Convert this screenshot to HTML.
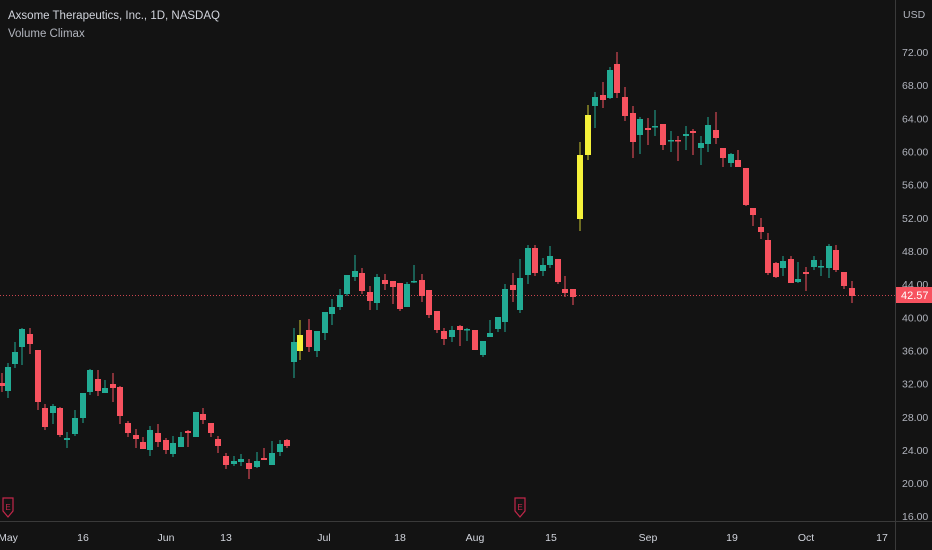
<!DOCTYPE html>
<html><head><meta charset="utf-8"><style>
html,body{margin:0;padding:0;background:#131313;}
svg{display:block}
text{font-family:"Liberation Sans",sans-serif;}
</style></head><body>
<svg id="s" width="932" height="550" viewBox="0 0 932 550" xmlns="http://www.w3.org/2000/svg">
<rect width="932" height="550" fill="#131313"/>
<line x1="895.5" y1="0" x2="895.5" y2="550" stroke="#3a3a3a"/>
<line x1="0" y1="521.5" x2="932" y2="521.5" stroke="#3a3a3a"/>
<line x1="0" y1="295.5" x2="895" y2="295.5" stroke="#f7525f" stroke-width="1" stroke-dasharray="1,2" opacity="0.8"/>
<text x="8" y="19" fill="#d1d4dc" font-size="11.5">Axsome Therapeutics, Inc., 1D, NASDAQ</text>
<text x="8" y="37" fill="#b2b5be" font-size="11.5">Volume Climax</text>
<text x="903" y="18" fill="#b2b5be" font-size="10.5">USD</text>
<g id="c"></g>
<g fill="#b2b5be" font-size="10.5" id="py"></g>
<rect x="896" y="287" width="36" height="16" fill="#f7525f"/>
<text x="901" y="299" fill="#fff" font-size="11">42.57</text>
<g fill="#d1d4dc" font-size="10.5" text-anchor="middle">
<text x="8" y="541">May</text><text x="83" y="541">16</text><text x="166" y="541">Jun</text><text x="226" y="541">13</text>
<text x="324" y="541">Jul</text><text x="400" y="541">18</text><text x="475" y="541">Aug</text><text x="551" y="541">15</text>
<text x="648" y="541">Sep</text><text x="732" y="541">19</text><text x="806" y="541">Oct</text><text x="882" y="541">17</text>
</g>
<g fill="none" stroke="#c2274a" stroke-width="1.2">
<path d="M3 498 h10 v13 l-5 6 l-5 -6 z"/><path d="M515 498 h10 v13 l-5 6 l-5 -6 z"/>
</g>
<g fill="#c2274a" font-size="8" text-anchor="middle"><text x="8" y="510">E</text><text x="520" y="510">E</text></g>
</svg>
<script>
var T="#22ab94",R="#f7525f",Y="#f5f23a";
var d=[[2,383,386,373,392,R],[8,367,391,363,398,T],[15,352,364,342,368,T],[22,329,347,328,365,T],[30,334,344,328,354,R],[38,350,402,350,410,R],[45,408,427,404,430,R],[53,406,413,404,424,T],[60,408,435,407,437,R],[67,438,440,432,448,T],[75,418,434,410,436,T],[83,393,418,393,423,T],[90,370,392,369,395,T],[98,379,391,370,396,R],[105,388,393,380,393,T],[113,384,388,373,402,R],[120,387,416,386,424,R],[128,423,433,421,437,R],[136,435,439,429,448,R],[143,442,449,437,449,R],[150,430,450,426,456,T],[158,433,442,424,447,R],[166,440,450,438,454,R],[173,443,454,436,457,T],[181,437,447,432,447,T],[188,431,433,430,447,R],[196,412,437,412,437,T],[203,414,420,408,424,R],[211,423,433,423,437,R],[218,439,446,436,453,R],[226,456,465,453,469,R],[234,461,464,456,466,T],[241,459,462,454,466,T],[249,463,469,459,479,R],[257,461,467,452,468,T],[264,458,460,448,460,R],[272,453,465,441,465,T],[280,444,452,440,456,T],[287,440,446,439,448,R],
[294,342,362,328,378,T],[300,335,351,320,360,Y],[309,330,347,319,352,R],[317,331,351,331,357,T],[325,312,333,312,340,T],[332,307,314,299,325,T],[340,295,307,289,310,T],[347,275,294,275,296,T],[355,271,277,255,281,T],[362,273,291,268,294,R],[370,292,301,286,310,R],[377,277,303,274,310,T],[385,280,284,274,290,R],[393,281,287,281,304,R],[400,283,309,283,311,R],[407,284,307,282,307,T],[414,281,282,265,283,T],[422,280,296,274,302,R],[429,290,315,290,318,R],[437,311,330,311,333,R],[444,331,339,328,345,R],[452,330,337,326,342,T],[460,326,330,325,346,R],[467,329,330,328,341,T],[475,330,350,330,350,R],[483,341,355,341,357,T],[490,333,337,320,337,T],[498,317,329,317,332,T],[505,289,322,284,332,T],[513,285,290,273,302,R],[520,278,310,259,313,T],[528,248,275,245,284,T],[535,248,273,245,276,R],[543,265,271,258,276,T],[550,256,265,246,268,T],[558,259,282,259,284,R],[565,289,293,276,297,R],[573,289,297,289,305,R],
[580,155,219,142,231,Y],[588,115,155,105,160,Y],[595,97,106,92,128,T],[603,95,100,82,108,R],[610,70,98,67,99,T],[617,64,93,52,98,R],[625,97,116,87,121,R],[633,113,142,106,158,R],[640,119,135,117,154,T],[648,128,130,118,145,R],[655,126,127,110,136,T],[663,124,145,124,150,R],[671,140,141,131,152,T],[678,140,141,136,161,R],[686,134,136,126,150,T],[693,131,133,129,155,R],[701,143,148,136,165,T],[708,125,144,117,152,T],[716,130,138,112,144,R],[723,148,158,148,167,R],[731,154,163,153,167,T],[738,160,167,150,167,R],[746,168,205,168,206,R],[753,208,215,208,226,R],[761,227,232,218,239,R],[768,240,273,233,275,R],[776,263,277,262,278,R],[783,261,268,256,276,T],[791,259,283,256,283,R],[798,279,282,262,283,T],[806,272,274,267,291,R],[814,260,267,256,270,T],[821,266,267,260,276,T],[829,246,268,244,278,T],[836,250,270,245,272,R],[844,272,286,272,289,R],[852,288,296,281,303,R]];
var h="";d.forEach(function(c){var wc=c[5]==Y?"#c8c530":c[5];
h+='<rect x="'+(c[0]-0.5)+'" y="'+c[3]+'" width="1" height="'+(c[4]-c[3])+'" fill="'+wc+'"/>';
h+='<rect x="'+(c[0]-3)+'" y="'+c[1]+'" width="6" height="'+Math.max(1.5,c[2]-c[1])+'" fill="'+c[5]+'"/>';});
document.getElementById("c").innerHTML=h;
var p="";for(var v=72;v>=16;v-=4){var y=52+(72-v)*8.29;if(v==44)y=284;p+='<text x="902" y="'+(y+4)+'">'+v.toFixed(2)+'</text>';}
document.getElementById("py").innerHTML=p;
</script>
</body></html>
